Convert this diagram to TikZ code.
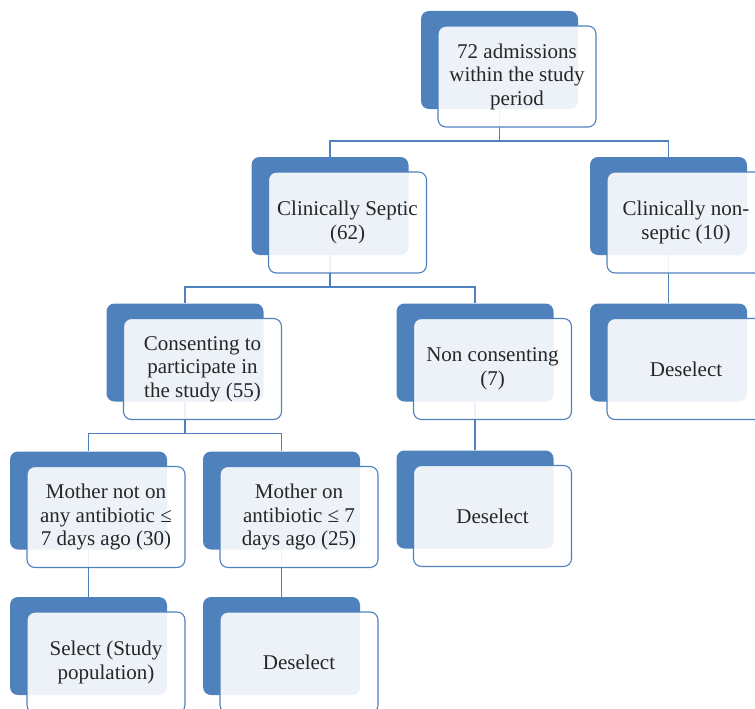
\documentclass[tikz,border=0pt]{standalone}
\usepackage{fontspec}
\setmainfont{Liberation Serif}
\definecolor{boxblue}{RGB}{79,129,189}
\tikzset{
  backbox/.style={fill=boxblue, rounded corners=8pt, minimum width=157pt,
    minimum height=98pt, inner sep=0pt},
  frontbox/.style={draw=boxblue, line width=1.1pt, fill=white, fill opacity=0.9,
    text opacity=1, rounded corners=8pt, minimum width=158pt, minimum height=101pt,
    inner sep=0pt, align=center, text=black!85,
    font=\fontsize{21}{23.5}\selectfont},
  link/.style={draw=boxblue, line width=1.5pt}
}

\begin{document}
\begin{tikzpicture}[x=1pt, y=-1pt]
    \useasboundingbox (0,0) rectangle (755,709);
    \clip (0,0) rectangle (755,709);
    % back boxes
    \foreach \n/\x/\y in {adm/499.5/60, sep/330/206, non/668.5/206, nondes/668.5/352.5,
        con/185/352.5, ncon/475/352.5, ncondes/475/499.5,
        mnot/88.5/500.5, sel/88.5/646, mon/281.5/500.5, mondes/281.5/646}
      \node[backbox] (b-\n) at (\x,\y) {};
    % connectors
    \coordinate (j1) at ([yshift=-32pt]b-adm.south);
    \coordinate (j2) at ([yshift=-32pt]b-sep.south);
    \coordinate (j3) at ([yshift=-32pt]b-con.south);
    \draw[link] (b-adm.south) -- (j1) -| (b-sep.north);
    \draw[link] (j1) -| (b-non.north);
    \draw[link] (b-sep.south) -- (j2) -| (b-con.north);
    \draw[link] (j2) -| (b-ncon.north);
    \draw[link] (b-con.south) -- (j3) -| (b-mnot.north);
    \draw[link] (j3) -| (b-mon.north);
    \draw[link] (b-non.south) -- (b-nondes.north);
    \draw[link] (b-ncon.south) -- (b-ncondes.north);
    \draw[link] (b-mnot.south) -- (b-sel.north);
    \draw[link] (b-mon.south) -- (b-mondes.north);
    % front boxes
    \foreach \n/\t in {adm/{72 admissions\\within the study\\period},
        sep/{Clinically Septic\\(62)}, non/{Clinically non-\\septic (10)},
        nondes/Deselect, con/{Consenting to\\participate in\\the study (55)},
        ncon/{Non consenting\\(7)}, ncondes/Deselect,
        mnot/{Mother not on\\any antibiotic ≤\\7 days ago (30)},
        sel/{Select (Study\\population)},
        mon/{Mother on\\antibiotic ≤ 7\\days ago (25)}, mondes/Deselect}
      \node[frontbox] (f-\n) at ([shift={(17.5,16.5)}]b-\n.center) {\t};
\end{tikzpicture}
\end{document}
